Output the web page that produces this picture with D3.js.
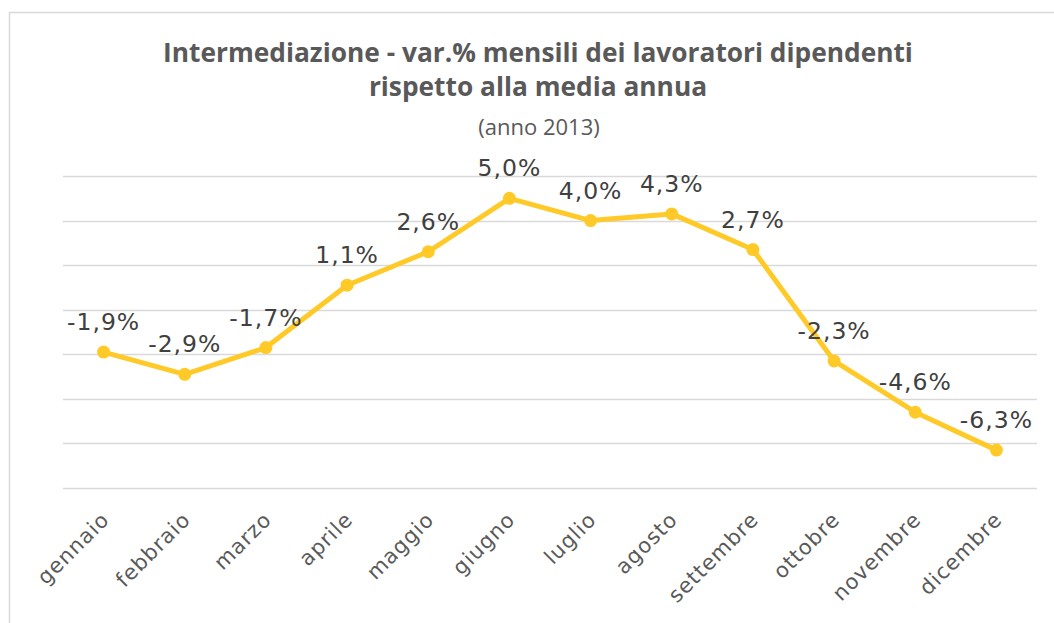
<!DOCTYPE html>
<html>
<head>
<meta charset="utf-8">
<script src="https://cdn.jsdelivr.net/npm/d3@7"></script>
<style>
  body { margin: 0; background: #fff; }
  svg { display: block; }
</style>
</head>
<body>
<svg width="1054" height="623"></svg>
<script>
var months = ["gennaio","febbraio","marzo","aprile","maggio","giugno","luglio","agosto","settembre","ottobre","novembre","dicembre"];
var values = [-1.9,-2.9,-1.7,1.1,2.6,5.0,4.0,4.3,2.7,-2.3,-4.6,-6.3];
var gridTicks = [-8,-6,-4,-2,0,2,4,6];

var svg = d3.select("svg");

// chart border
svg.append("rect")
  .attr("x", 9.5).attr("y", 12.5)
  .attr("width", 1100).attr("height", 700)
  .attr("fill", "none").attr("stroke", "#d9d9d9").attr("stroke-width", 1.5);

var xScale = d3.scaleBand().domain(months).range([63, 1037]);
var yScale = d3.scaleLinear().domain([-8, 6]).range([488, 176]);

// title
var title = svg.append("text")
  .attr("text-anchor", "middle")
  .attr("fill", "#595959")
  .style("font-family", "'Open Sans', sans-serif")
  .style("font-weight", "bold")
  .style("font-size", "26.3px");
title.append("tspan").attr("x", 538).attr("y", 62).text("Intermediazione - var.% mensili dei lavoratori dipendenti");
title.append("tspan").attr("x", 538).attr("y", 96).text("rispetto alla media annua");

svg.append("text")
  .attr("x", 539).attr("y", 135)
  .attr("text-anchor", "middle")
  .attr("fill", "#595959")
  .style("font-family", "'Open Sans', sans-serif")
  .style("font-size", "22px")
  .text("(anno 2013)");

// gridlines
svg.append("g")
  .selectAll("line")
  .data(gridTicks)
  .enter()
  .append("line")
  .attr("x1", 63).attr("x2", 1037)
  .attr("y1", function(d){ return Math.round(yScale(d)) + 0.5; })
  .attr("y2", function(d){ return Math.round(yScale(d)) + 0.5; })
  .attr("stroke", "#d9d9d9").attr("stroke-width", 1.5);

// x axis labels
var xAxis = svg.append("g")
  .attr("transform", "translate(0,488)")
  .call(d3.axisBottom(xScale).tickSize(0).tickPadding(0));
xAxis.select(".domain").remove();
xAxis.selectAll("text")
  .attr("fill", "#595959")
  .style("font-family", "'DejaVu Sans', sans-serif")
  .style("font-size", "21px")
  .style("letter-spacing", "1px")
  .attr("text-anchor", "end")
  .attr("x", 0).attr("y", 0).attr("dy", 0)
  .attr("transform", "translate(7,33) rotate(-45)");

function cx(d, i){ return xScale(months[i]) + xScale.bandwidth() / 2; }

var line = d3.line()
  .x(function(d, i){ return cx(d, i); })
  .y(function(d){ return yScale(d); });

svg.append("path")
  .datum(values)
  .attr("d", line)
  .attr("fill", "none")
  .attr("stroke", "#FFCA28")
  .attr("stroke-width", 5)
  .attr("stroke-linejoin", "round");

svg.selectAll(".dot")
  .data(values)
  .enter()
  .append("circle")
  .attr("class", "dot")
  .attr("r", 6.5)
  .attr("cx", cx)
  .attr("cy", function(d){ return yScale(d); })
  .attr("fill", "#FFCA28");

svg.selectAll(".lbl")
  .data(values)
  .enter()
  .append("text")
  .attr("class", "lbl")
  .attr("x", cx)
  .attr("y", function(d){ return yScale(d) - 22; })
  .attr("text-anchor", "middle")
  .attr("fill", "#404040")
  .style("font-family", "'DejaVu Sans', sans-serif")
  .style("font-size", "23.5px")
  .style("letter-spacing", "1px")
  .text(function(d){ return d.toFixed(1).replace(".", ",") + "%"; });
</script>
</body>
</html>
